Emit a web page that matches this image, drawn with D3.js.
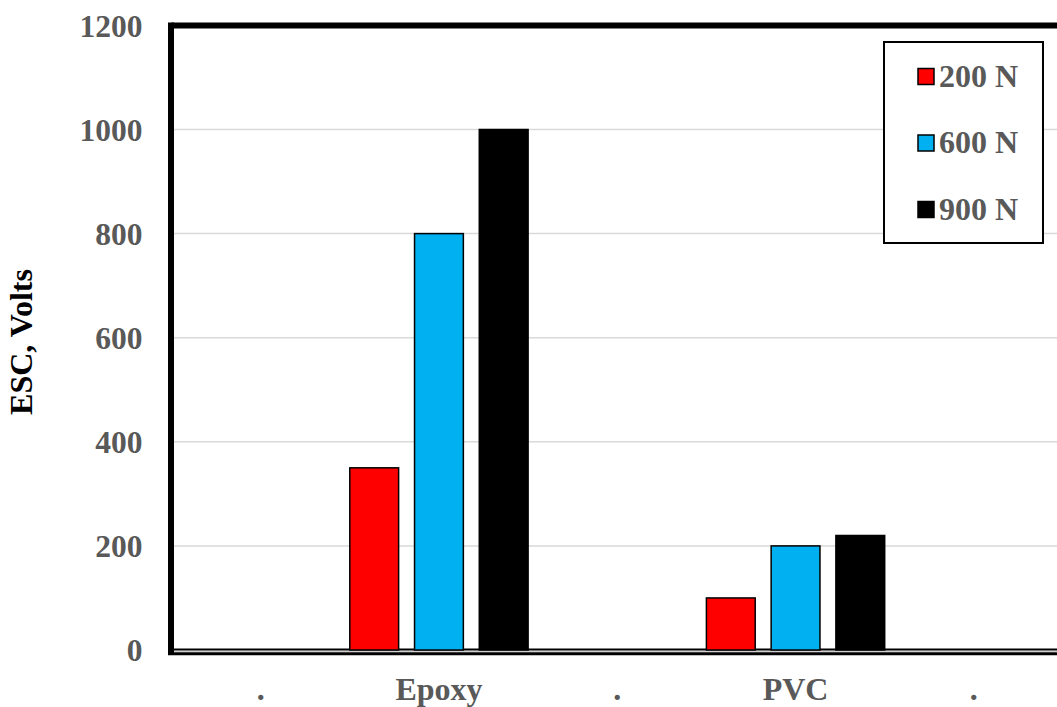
<!DOCTYPE html>
<html><head><meta charset="utf-8">
<script src="https://cdn.jsdelivr.net/npm/d3@7"></script>
<style>html,body{margin:0;padding:0;background:#fff;overflow:hidden}</style>
</head><body>
<svg id="chart" width="1057" height="707"></svg>
<script>
const categories = [".", "Epoxy", ".", "PVC", "."];
const categoryKeys = ["c0", "Epoxy", "c2", "PVC", "c4"];
const series = ["200 N", "600 N", "900 N"];
const values200 = [null, 350, null, 100, null];
const values600 = [null, 800, null, 200, null];
const values900 = [null, 1000, null, 220, null];
const yTicks = [0, 200, 400, 600, 800, 1000, 1200];
const colors = ["#FF0000", "#00B0F0", "#000000"];

(function () {
const svg = d3.select("#chart");
const pL = 171.5, pR = 1063, pT = 25.4, pB = 650;
const font = "'Liberation Serif','Times New Roman',serif";
const grey = "#595959";

const y = d3.scaleLinear().domain([0, 1200]).range([pB, pT]);
const x0 = d3.scaleBand().domain(categoryKeys).range([pL, pR]).padding(0);
const x1 = d3.scaleBand().domain(series).range([0, x0.bandwidth()]).paddingInner(0.246).paddingOuter(0);

// gridlines
svg.append("g").selectAll("line").data(yTicks.filter(t => t > 0 && t < 1200)).join("line")
  .attr("x1", pL).attr("x2", 1057).attr("y1", d => y(d)).attr("y2", d => y(d))
  .attr("stroke", "#d9d9d9").attr("stroke-width", 1.5);

// baseline lines
svg.append("line").attr("x1", pL).attr("x2", 1057).attr("y1", y(0) + 1.5).attr("y2", y(0) + 1.5)
  .attr("stroke", "#d0d0d0").attr("stroke-width", 1.5);
svg.append("line").attr("x1", pL).attr("x2", 1057).attr("y1", y(0) - 0.5).attr("y2", y(0) - 0.5)
  .attr("stroke", "#000").attr("stroke-width", 2);

// bars
const valueSets = [values200, values600, values900];
const data = [];
categoryKeys.forEach((c, i) => {
  series.forEach((s, j) => {
    const v = valueSets[j][i];
    if (v != null) data.push({c, s, v, j});
  });
});
svg.append("g").selectAll("rect").data(data).join("rect")
  .attr("x", d => x0(d.c) + x1(d.s))
  .attr("width", x1.bandwidth())
  .attr("y", d => y(d.v))
  .attr("height", d => y(0) - y(d.v))
  .attr("fill", d => colors[d.j])
  .attr("stroke", "#000").attr("stroke-width", 1.5);

// frame
svg.append("line").attr("x1", pL).attr("x2", 1057).attr("y1", pT).attr("y2", pT)
  .attr("stroke", "#000").attr("stroke-width", 6);
svg.append("line").attr("x1", pL - 0.5).attr("x2", pL - 0.5).attr("y1", pT - 3).attr("y2", pB + 5)
  .attr("stroke", "#000").attr("stroke-width", 6);
svg.append("line").attr("x1", pL - 3.5).attr("x2", 1057).attr("y1", pB + 3.7).attr("y2", pB + 3.7)
  .attr("stroke", "#000").attr("stroke-width", 3);

// y axis labels
const yAxis = d3.axisLeft(y).tickValues(yTicks).tickSize(0).tickPadding(0).tickFormat(d3.format("d"));
const ya = svg.append("g").attr("transform", "translate(142.5,0)").call(yAxis);
ya.select(".domain").remove();
ya.selectAll("text").attr("font-family", font).attr("font-weight", "bold").attr("font-size", 31.5)
  .attr("fill", grey).attr("dy", "0.34em");

// x axis labels
const xAxis = d3.axisBottom(x0).tickSize(0).tickPadding(0).tickFormat((d, i) => categories[i]);
const xa = svg.append("g").attr("transform", "translate(0,700)").call(xAxis);
xa.select(".domain").remove();
xa.selectAll("text").attr("font-family", font).attr("font-weight", "bold").attr("font-size", 32)
  .attr("fill", grey).attr("dy", 0);

// y title
svg.append("text").attr("transform", "translate(32,342) rotate(-90)")
  .attr("text-anchor", "middle").attr("font-family", font).attr("font-weight", "bold")
  .attr("font-size", 32).attr("fill", "#000").text("ESC, Volts");

// legend
const lg = svg.append("g");
lg.append("rect").attr("x", 884).attr("y", 42).attr("width", 159).attr("height", 201)
  .attr("fill", "#fff").attr("stroke", "#000").attr("stroke-width", 2);
const items = lg.selectAll("g.item").data(series).join("g").attr("class", "item")
  .attr("transform", (d, i) => `translate(918,${76.5 + i * 66.5})`);
items.append("rect").attr("x", 0).attr("y", -8).attr("width", 16).attr("height", 16)
  .attr("fill", (d, i) => colors[i]).attr("stroke", "#000").attr("stroke-width", 1.5);
items.append("text").attr("x", 21).attr("y", 10).attr("font-family", font).attr("font-weight", "bold")
  .attr("font-size", 32).attr("fill", grey).text(d => d);
})();
</script>
</body></html>
